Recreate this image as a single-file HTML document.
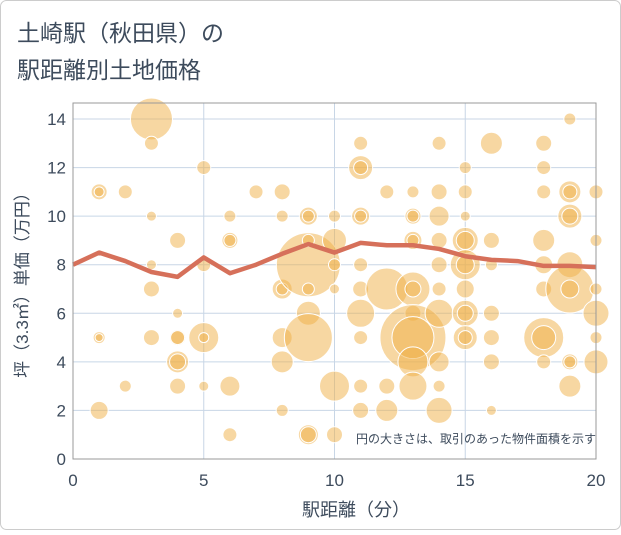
<!DOCTYPE html>
<html><head><meta charset="utf-8"><style>
body{margin:0;background:#fff;}
svg text{font-family:"Liberation Sans","Noto Sans CJK JP",sans-serif;fill:#3d4b5c;}
</style></head><body>
<svg id="c" width="621" height="530">
<rect x="0.5" y="0.5" width="620" height="529" rx="6" fill="#fff" stroke="#ccc"/>
<text x="17" y="41" font-size="23">土崎駅（秋田県）の</text>
<text x="17" y="78" font-size="23">駅距離別土地価格</text>
<g id="grid"></g>
<g id="bubbles"></g>
<g id="line"></g>
<rect x="73" y="103" width="523" height="356" fill="none" stroke="#999"/>
<g id="ticks"></g>
<text x="596" y="443" font-size="12" text-anchor="end">円の大きさは、取引のあった物件面積を示す</text>
<text x="356" y="516" font-size="18" text-anchor="middle">駅距離（分）</text>
<text transform="translate(28,281) rotate(-90)" font-size="17" text-anchor="middle">坪（3.3㎡）単価（万円）</text>
</svg>
<script>
const xTicks=[0,5,10,15,20];
const yTicks=[0,2,4,6,8,10,12,14];
const bx=[1,1,1,1,1,2,2,3,3,3,3,3,3,4,4,4,4,4,4,4,5,5,5,5,5,6,6,6,6,6,7,8,8,8,8,8,8,8,9,9,9,9,9,9,9,9,9,10,10,10,10,10,10,11,11,11,11,11,11,11,11,11,11,11,12,12,12,12,13,13,13,13,13,13,13,13,13,13,13,13,14,14,14,14,14,14,14,14,14,14,15,15,15,15,15,15,15,15,15,15,15,15,16,16,16,16,16,16,16,18,18,18,18,18,18,18,18,18,19,19,19,19,19,19,19,19,19,19,19,20,20,20,20,20,20];
const by=[11,11,5,5,2,11,3,14,13,10,8,7,5,9,6,5,5,4,4,3,12,8,5,5,3,10,9,9,3,1,11,11,10,7,7,5,4,2,8,10,10,7,6,5,1,1,9,10,9,8,7,3,1,13,12,12,10,10,8,7,6,5,3,2,11,7,3,2,11,10,10,9,9,7,7,6,5,5,4,3,13,11,10,9,8,7,6,4,3,2,12,11,10,9,9,8,8,7,6,6,5,5,13,9,8,6,5,4,2,13,12,11,9,8,7,5,5,4,14,11,11,10,10,8,7,7,4,4,3,11,9,7,6,5,4];
const bs=[8,5,6,4,9,7,6,21,7,5,5,8,8,8,5,8,7,11,8,8,7,7,15,5,5,6,8,6,10,7,7,8,6,10,6,10,11,6,32,9,6,6,12,24,10,8,6,6,12,6,5,15,8,7,12,7,9,6,7,8,14,7,7,8,7,21,8,11,6,8,6,9,6,17,8,8,33,21,15,14,7,8,10,8,8,7,14,10,6,13,6,7,5,13,9,15,9,9,13,8,12,7,11,8,6,8,8,8,5,8,7,7,11,9,8,20,12,7,6,11,7,12,8,13,24,9,8,6,11,7,6,6,13,6,12];
const lx=[0,1,2,3,4,5,6,7,8,9,10,11,12,13,14,15,16,17,18,19,20];
const ly=[8.0,8.5,8.15,7.7,7.5,8.3,7.65,8.0,8.45,8.85,8.5,8.9,8.8,8.8,8.65,8.35,8.2,8.15,7.95,7.95,7.9];
const NS='http://www.w3.org/2000/svg';
const X=v=>73+v*523/20, Y=v=>459-v*(340/14);
const grid=document.getElementById('grid'),ticks=document.getElementById('ticks');
function mk(p,t,a){const e=document.createElementNS(NS,t);for(const k in a)e.setAttribute(k,a[k]);p.appendChild(e);return e;}
xTicks.forEach(v=>{
 const l=mk(grid,'line',{x1:X(v),x2:X(v),y1:103,y2:459,stroke:'#c8d6e6'});
 
 
 const t=mk(ticks,'text',{x:X(v),y:486,'font-size':17,'text-anchor':'middle'});t.textContent=v;
 
 
});
yTicks.forEach(v=>{
 const l=mk(grid,'line',{x1:73,x2:596,y1:Y(v),y2:Y(v),stroke:'#c8d6e6'});
 
 
 const t=mk(ticks,'text',{x:66,y:Y(v)+6,'font-size':17,'text-anchor':'end'});t.textContent=v;
 
 
});
const bg=document.getElementById('bubbles');
bx.forEach((v,i)=>{
 const c=mk(bg,'circle',{cx:X(v),cy:Y(by[i]),r:bs[i],fill:'rgba(240,176,70,0.5)',stroke:'#fff','stroke-width':1});
 
 
});
const p=mk(document.getElementById('line'),'polyline',{points:lx.map((v,i)=>X(v)+','+Y(ly[i])).join(' '),fill:'none',stroke:'#d6705a','stroke-width':4.5,'stroke-linejoin':'round'});


</script>
</body></html>
